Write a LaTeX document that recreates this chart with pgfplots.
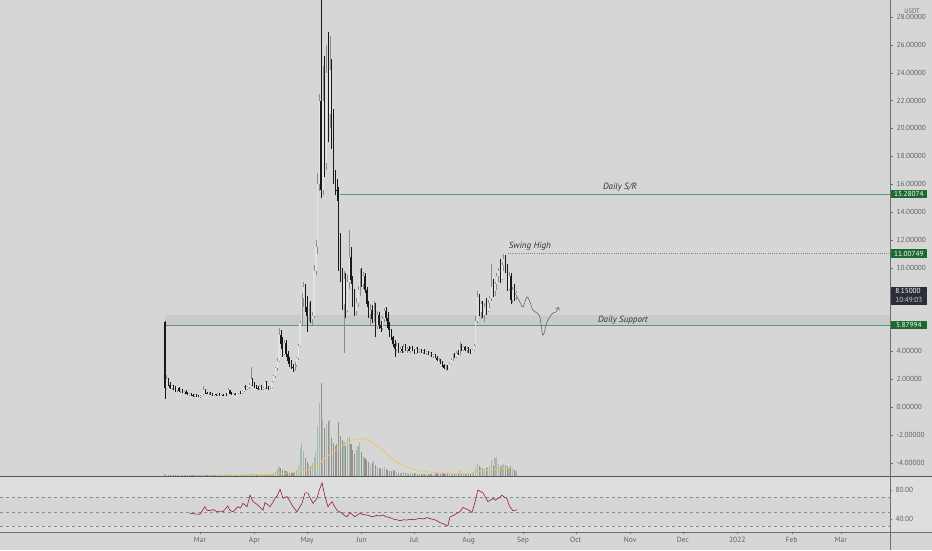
\documentclass[border=0pt]{standalone}
\usepackage{pgfplots}
\pgfplotsset{compat=1.18}
\usepackage{pgfplotstable}
\usepackage{fontspec}
\setmainfont{PT Sans}
\usetikzlibrary{arrows.meta}

\definecolor{bg}{RGB}{214,214,214}
\definecolor{rsibg}{RGB}{222,222,222}
\definecolor{rsiband}{RGB}{214,214,214}
\definecolor{supband}{RGB}{202,202,202}
\definecolor{srgreen}{RGB}{90,152,110}
\definecolor{boxgreen}{RGB}{30,105,45}
\definecolor{boxdark}{RGB}{42,46,57}
\definecolor{upbody}{RGB}{228,228,228}
\definecolor{upwick}{RGB}{140,140,140}
\definecolor{dnbody}{RGB}{25,25,25}
\definecolor{volup}{RGB}{165,185,170}
\definecolor{voldn}{RGB}{150,145,145}
\definecolor{volma}{RGB}{232,200,100}
\definecolor{rsired}{RGB}{150,30,50}
\definecolor{tickgray}{RGB}{95,95,95}
\definecolor{axisgray}{RGB}{110,110,110}

% day 0 = 1 Mar 2021; v = volume bar height
\pgfplotstableread{
d o h l c v
-20 6.10 6.20 0.60 1.40 2
-19 1.40 2.30 1.30 2.00 1
-18 2.00 2.10 1.50 1.60 1
-17 1.60 1.80 1.30 1.40 1
-16 1.40 1.60 1.20 1.50 1
-15 1.50 1.60 1.20 1.30 1
-14 1.30 1.50 1.10 1.20 1
-13 1.20 1.40 1.10 1.35 1
-12 1.35 1.45 1.10 1.15 1
-11 1.15 1.30 1.00 1.20 1
-10 1.20 1.30 1.00 1.05 1
-9 1.05 1.15 0.95 1.10 1
-8 1.10 1.20 0.90 0.95 1
-7 0.95 1.05 0.85 0.90 1
-6 0.90 1.00 0.80 0.95 1
-5 0.95 1.00 0.80 0.85 1
-4 0.85 0.95 0.75 0.80 1
-3 0.80 0.90 0.70 0.85 1
-2 0.85 0.90 0.72 0.78 1
-1 0.78 0.85 0.70 0.75 1
0 0.75 0.85 0.68 0.80 1
1 0.80 0.95 0.75 0.90 1
2 0.90 1.50 0.85 1.20 2
3 1.20 1.30 0.95 1.00 1
4 1.00 1.10 0.90 0.95 1
5 0.95 1.05 0.85 1.00 1
6 1.00 1.05 0.85 0.90 1
7 0.90 1.00 0.82 0.85 1
8 0.85 0.95 0.80 0.90 1
9 0.90 0.95 0.80 0.85 1
10 0.85 1.00 0.80 0.95 1
11 0.95 1.00 0.80 0.85 1
12 0.85 0.95 0.78 0.88 1
13 0.88 0.95 0.80 0.82 1
14 0.82 0.92 0.78 0.90 1
15 0.90 1.00 0.82 0.86 1
16 0.86 1.40 0.84 1.20 2
17 1.20 1.25 0.90 0.95 1
18 0.95 1.05 0.85 0.90 1
19 0.90 1.00 0.85 0.95 1
20 0.95 1.00 0.85 0.88 1
21 0.88 1.00 0.85 0.98 1
22 0.98 1.10 0.90 1.05 1
23 1.05 1.15 0.95 1.00 1
24 1.00 1.20 0.95 1.15 1
25 1.15 1.50 1.10 1.40 2
26 1.40 1.60 1.20 1.30 1
27 1.30 1.50 1.20 1.45 1
28 1.45 1.70 1.30 1.60 2
29 1.60 2.90 1.50 2.00 3
30 2.00 2.10 1.50 1.60 2
31 1.60 1.80 1.40 1.50 1
32 1.50 1.60 1.30 1.40 1
33 1.40 1.50 1.20 1.30 1
34 1.30 1.60 1.25 1.50 1
35 1.50 1.55 1.20 1.30 1
36 1.30 1.45 1.20 1.35 1
37 1.35 1.90 1.30 1.80 2
38 1.80 1.85 1.30 1.40 2
39 1.40 1.50 1.25 1.35 1
40 1.35 1.50 1.30 1.45 1
41 1.45 1.90 1.40 1.80 2
42 1.80 2.30 1.70 2.20 3
43 2.20 2.90 2.10 2.80 4
44 2.80 3.50 2.60 3.30 6
45 3.30 5.70 3.20 5.20 9
46 5.20 5.50 4.20 4.50 8
47 4.50 5.00 3.60 3.80 6
48 3.80 4.80 3.70 4.60 7
49 4.60 4.80 3.60 3.80 5
50 3.80 4.00 3.10 3.30 4
51 3.30 3.60 2.90 3.10 3
52 3.10 3.40 2.70 2.90 3
53 2.90 3.10 2.50 2.80 3
54 2.80 3.20 2.60 3.00 4
55 3.00 3.60 2.90 3.50 6
56 3.50 4.50 3.40 4.40 10
57 4.40 6.20 4.30 6.00 28
58 6.00 8.20 5.80 7.80 33
59 7.80 9.00 7.20 8.60 25
60 8.60 8.80 6.80 7.20 18
61 7.20 8.00 5.40 6.50 14
62 6.50 7.50 6.20 7.30 12
63 7.30 7.60 6.00 6.30 10
64 6.30 6.80 5.90 6.50 13
65 6.50 10.20 6.40 9.80 19
66 9.80 12.00 9.50 11.50 24
67 11.50 16.80 11.00 16.00 50
68 16.00 22.50 15.50 22.00 73
69 22.00 30.50 15.00 15.60 93
70 15.60 24.50 15.20 22.00 56
71 22.00 25.20 16.50 17.50 48
72 17.50 26.00 17.00 24.00 52
73 24.00 26.90 19.00 21.00 55
74 21.00 26.60 20.00 24.20 56
75 24.20 25.00 18.50 19.20 38
76 19.20 21.40 16.00 16.40 33
77 16.40 17.00 15.20 15.60 30
78 15.60 16.40 14.80 15.50 32
79 15.50 15.80 9.80 10.40 54
80 10.40 12.50 9.00 9.60 40
81 9.60 10.00 7.00 7.40 36
82 7.40 9.80 3.90 9.20 34
83 9.20 9.60 6.40 7.00 30
84 7.00 9.50 6.80 9.00 38
85 9.00 12.70 8.50 10.80 40
86 10.80 11.50 8.80 9.10 32
87 9.10 9.40 7.20 7.60 26
88 7.60 8.50 6.50 6.90 22
89 6.90 7.80 6.60 7.50 26
90 7.50 8.70 7.20 8.40 30
91 8.40 9.90 8.00 9.60 34
92 9.60 10.00 8.60 8.80 24
93 8.80 9.70 8.50 9.40 20
94 9.40 9.60 8.20 8.40 18
95 8.40 8.60 7.20 7.40 16
96 7.40 7.60 6.40 6.70 14
97 6.70 7.40 5.90 7.00 12
98 7.00 7.30 6.00 6.30 13
99 6.30 7.60 6.10 7.40 15
100 7.40 7.50 5.00 5.80 11
101 5.80 6.90 5.60 6.60 9
102 6.60 6.80 5.60 5.90 8
103 5.90 6.20 5.40 5.70 7
104 5.70 6.50 5.50 6.30 8
105 6.30 7.10 6.10 6.90 9
106 6.90 7.20 6.20 6.40 7
107 6.40 6.80 5.50 5.70 6
108 5.70 6.10 5.00 5.20 5
109 5.20 5.60 4.80 5.00 5
110 5.00 5.10 4.30 4.50 6
111 4.50 4.80 3.60 4.20 5
112 4.20 4.60 4.00 4.40 4
113 4.40 4.60 3.90 4.00 3
114 4.00 4.30 3.90 4.20 3
115 4.20 4.40 3.90 4.00 3
116 4.00 4.50 3.90 4.30 4
117 4.30 4.50 4.00 4.10 3
118 4.10 4.30 3.90 4.20 3
119 4.20 4.40 4.00 4.05 2
120 4.05 4.30 3.90 4.20 3
121 4.20 4.40 4.00 4.10 2
122 4.10 4.20 3.80 3.90 3
123 3.90 4.30 3.80 4.20 3
124 4.20 4.30 3.90 4.00 2
125 4.00 4.20 3.85 4.10 2
126 4.10 4.20 3.90 3.95 2
127 3.95 4.10 3.80 4.05 2
128 4.05 4.15 3.80 3.85 2
129 3.85 4.00 3.75 3.95 2
130 3.95 4.05 3.70 3.75 2
131 3.75 3.95 3.65 3.90 2
132 3.90 3.95 3.60 3.65 2
133 3.65 3.80 3.50 3.70 2
134 3.70 3.80 3.50 3.55 2
135 3.55 3.65 3.30 3.35 3
136 3.35 3.50 3.20 3.40 2
137 3.40 3.45 3.10 3.15 2
138 3.15 3.30 2.90 3.00 3
139 3.00 3.10 2.70 2.80 3
140 2.80 3.00 2.60 2.90 3
141 2.90 3.00 2.65 2.75 3
142 2.75 3.20 2.70 3.10 3
143 3.10 3.50 3.00 3.40 3
144 3.40 3.80 3.30 3.70 3
145 3.70 3.90 3.50 3.60 2
146 3.60 4.00 3.50 3.90 3
147 3.90 4.10 3.70 3.80 2
148 3.80 4.70 3.70 4.30 6
149 4.30 4.50 4.00 4.10 3
150 4.10 4.40 4.00 4.30 3
151 4.30 4.40 4.00 4.10 2
152 4.10 4.30 3.90 4.20 2
153 4.20 4.30 3.90 4.00 2
154 4.00 4.20 3.80 3.90 2
155 3.90 4.20 3.85 4.10 3
156 4.10 4.50 4.00 4.40 4
157 4.40 6.50 4.30 6.20 8
158 6.20 8.30 6.00 7.90 12
159 7.90 8.10 6.50 6.80 10
160 6.80 7.60 6.30 7.40 9
161 7.40 7.60 6.40 6.60 8
162 6.60 7.50 6.10 7.20 7
163 7.20 7.80 6.60 6.90 8
164 6.90 7.70 6.80 7.50 9
165 7.50 8.00 7.10 7.80 10
166 7.80 10.30 7.60 8.60 16
167 8.60 9.20 7.90 8.30 10
168 8.30 9.00 8.00 8.80 18
169 8.80 9.60 8.40 9.40 19
170 9.40 10.00 9.00 9.80 12
171 9.80 10.60 8.90 9.20 9
172 9.20 10.40 9.10 10.20 11
173 10.20 11.01 9.80 10.60 12
174 10.60 10.90 9.60 10.00 11
175 10.00 10.30 8.30 8.50 10
176 8.50 9.70 8.40 9.40 8
177 9.40 9.60 7.40 7.70 10
178 7.70 8.60 7.50 8.40 7
179 8.40 8.80 7.60 7.90 6
180 7.90 8.30 7.70 8.15 5
}\prices

\pgfplotsset{
  pane/.style={at={(0pt,#1)}, anchor=south west, width=890pt,
    scale only axis, xmin=-113.9, xmax=393,
    /pgf/number format/assume math mode=true},
  candle/.style 2 args={draw=none, mark=none, forget plot,
    error bars/.cd, y dir=plus, y explicit, error mark=none,
    error bar style={draw=#1, line width=#2, solid}},
}

\begin{document}
\begin{tikzpicture}
\useasboundingbox (0,0) rectangle (932pt,550pt);
\fill[bg] (0,0) rectangle (932pt,550pt);
\fill[rsibg] (0,18pt) rectangle (932pt,74pt);

% volume
\begin{axis}[pane=74pt, height=476pt, ymin=0, ymax=476, hide axis]
\addplot[ycomb, mark=none, line width=1.1pt, draw=volup]
  table[x=d, y expr={(\thisrow{c}>=\thisrow{o})*\thisrow{v}}] {\prices};
\addplot[ycomb, mark=none, line width=1.1pt, draw=voldn]
  table[x=d, y expr={(\thisrow{c}<\thisrow{o})*\thisrow{v}}] {\prices};
\addplot[volma, line width=0.8pt, smooth] coordinates {
  (9.7,1) (20,1) (30,1.3) (41.6,1.8) (50,3) (57,4.5) (62,6.5) (66.6,9)
  (70,16) (75.7,24) (81.4,31) (87.1,36) (92.8,37.5) (96.8,35) (100,31)
  (104.2,26) (108,20) (112.2,14) (118,9) (123.6,6) (130,4) (136.7,3)
  (145,2.5) (152,2.5) (157,3.5) (161,5) (166,6) (170.8,7) (175,7.8) (179.4,8)
};
\end{axis}

% price
\begin{axis}[pane=74pt, height=476pt, ymin=-4.953, ymax=29.22,
  axis x line=none, axis y line*=right,
  y axis line style={draw=axisgray},
  ytick={-4,-2,0,2,4,10,12,14,16,18,20,22,24,26,28}, scaled y ticks=false,
  tick align=outside, major tick length=3pt,
  tick style={draw=axisgray},
  yticklabel style={font=\fontsize{7.3}{8}\selectfont, text=tickgray,
    /pgf/number format/.cd, fixed, fixed zerofill, precision=5, 1000 sep={}},
]
\fill[supband] (axis cs:-20,5.88) rectangle (axis cs:393,6.6);
\draw[srgreen, line width=0.9pt] (axis cs:-20,5.87994) -- (axis cs:393,5.87994);
\draw[srgreen, line width=0.9pt] (axis cs:79.5,15.28074) -- (axis cs:393,15.28074);
\draw[gray, line width=0.5pt, dash pattern=on 1pt off 1.2pt] (axis cs:175.4,11.00749) -- (axis cs:393,11.00749);

% wicks
\addplot[candle={upwick}{0.5pt}]
  table[x=d, y=l, y error plus expr={(\thisrow{c}>=\thisrow{o})*(\thisrow{h}-\thisrow{l})}] {\prices};
\addplot[candle={dnbody}{0.5pt}]
  table[x=d, y=l, y error plus expr={(\thisrow{c}<\thisrow{o})*(\thisrow{h}-\thisrow{l})}] {\prices};
% bodies
\addplot[candle={upbody}{1.3pt}]
  table[x=d, y=o, y error plus expr={max(\thisrow{c}-\thisrow{o},0)}] {\prices};
\addplot[candle={dnbody}{1.3pt}]
  table[x=d, y=c, y error plus expr={max(\thisrow{o}-\thisrow{c},0)}] {\prices};

% projected path
\addplot[draw=black!65, line width=0.5pt, smooth, mark=none,
  -{Straight Barb[length=2.5pt,width=4pt]}] coordinates {
  (179.4,8.18) (182.2,7.54) (183.9,7.18) (186.2,7.9) (187.9,7.54) (189.6,6.96)
  (191.9,6.75) (193.6,6.46) (195.3,5.15) (197.6,6.1) (199.3,6.46) (201,6.75)
  (202.7,6.82) (204.4,7.18)
};

\node[font=\itshape\fontsize{9}{10}\selectfont, text=black!80] at (axis cs:239.2,15.79) {Daily S/R};
\node[font=\itshape\fontsize{9}{10}\selectfont, text=black!80] at (axis cs:187.9,11.56) {Swing High};
\node[font=\itshape\fontsize{9}{10}\selectfont, text=black!80] at (axis cs:240.9,6.25) {Daily Support};

\coordinate (psr) at (axis cs:393,15.28074);
\coordinate (psh) at (axis cs:393,11.00749);
\coordinate (psup) at (axis cs:393,5.87994);
\coordinate (plast) at (axis cs:393,8.61);
\end{axis}

% RSI
\begin{axis}[pane=18pt, height=56pt, ymin=22.07, ymax=99.3,
  axis x line*=bottom, axis y line*=right,
  x axis line style={draw=axisgray}, y axis line style={draw=axisgray},
  ytick={40,80}, scaled y ticks=false,
  xtick={0,31,61,92,122,153,184,214,245,275,306,337,365},
  xticklabels={Mar,Apr,May,Jun,Jul,Aug,Sep,Oct,Nov,Dec,2022,Feb,Mar},
  tick align=outside, major tick length=2pt,
  tick style={draw=axisgray},
  xticklabel style={font=\fontsize{7.5}{8}\selectfont, text=tickgray},
  yticklabel style={font=\fontsize{7.3}{8}\selectfont, text=tickgray,
    /pgf/number format/.cd, fixed, fixed zerofill, precision=2},
]
\fill[rsiband] (axis cs:-113.9,30) rectangle (axis cs:393,70);
\draw[black!45, dash pattern=on 3pt off 3pt, line width=0.5pt] (axis cs:-113.9,70) -- (axis cs:393,70);
\draw[black!45, dash pattern=on 3pt off 3pt, line width=0.5pt] (axis cs:-113.9,50) -- (axis cs:393,50);
\draw[black!45, dash pattern=on 3pt off 3pt, line width=0.5pt] (axis cs:-113.9,30) -- (axis cs:393,30);
\addplot[rsired, line width=0.6pt, mark=none] coordinates {
  (-5.7,48) (-3,47) (0,46.4) (2.8,57) (4,52) (5.7,51.5) (7.5,53) (9.7,50)
  (11.5,51) (13.1,50) (15.9,58) (17,52) (18.8,50) (20,53) (21.6,57) (23,55)
  (24.5,61.6) (26.8,57) (28.5,73) (30.2,64) (31.5,62) (33,59) (35.9,52)
  (37,62.5) (38.5,60) (39.9,57) (41.5,63) (42.7,68.5) (44,72) (45.6,81)
  (47.3,68.5) (49.5,71) (51.3,64) (53,57) (55.2,50) (56.5,55) (58.1,61.6)
  (59.8,76) (61.5,76) (62.5,70) (64.4,61.6) (66.6,68.5) (68,80) (69.5,90)
  (71.2,71) (72.9,57) (75.2,64) (76.5,58) (78,52) (79.5,50) (80.9,48)
  (82.2,45) (83.7,43) (85.4,49) (86.8,46) (88.3,43) (89.8,46) (91.1,48)
  (93,46) (95.1,45.5) (96.8,44) (98.5,43) (100.5,45) (102.3,44) (104.2,45.5)
  (106.2,43) (108.2,42) (110,40) (112,39) (113.9,37.7) (116,39) (117.8,38.5)
  (119.6,39.6) (121.6,39) (123.6,40) (125.5,41) (127.4,40) (129.3,42)
  (131,40.5) (132.7,39.6) (134.7,38) (136.7,35) (139,33) (141.2,30.4)
  (142.4,43) (144.4,45) (146.4,48) (148,50) (149.8,56) (151.5,54) (153.3,52)
  (154.9,49) (156.5,62) (158.3,80) (159.7,78) (161.2,76) (162.6,70) (164,64)
  (165.5,66) (166.9,68.5) (168.3,66) (169.7,68.5) (171,70) (172,73)
  (173.4,70) (174.8,68.5) (175.6,62) (176.5,57) (177.4,54) (178.2,51.5)
  (179.4,52) (180.5,53)
};
\end{axis}

% pane separators and price scale border
\draw[axisgray!80!black, line width=0.7pt] (0,74pt) -- (932pt,74pt);
\draw[axisgray, line width=0.7pt] (0,18pt) -- (932pt,18pt);
\draw[axisgray, line width=0.7pt] (890pt,0) -- (890pt,550pt);

% price labels
\tikzset{plabel/.style={anchor=west, xshift=0.6pt, fill=#1, text=white,
  font=\fontsize{7.3}{8}\selectfont, inner xsep=1.5pt, inner ysep=1.6pt,
  minimum width=36pt}}
\node[plabel=boxgreen] at (psr) {15.28074};
\node[plabel=boxgreen] at (psh) {11.00749};
\node[plabel=boxgreen] at (psup) {5.87994};
\node[anchor=north west, xshift=0.6pt, fill=boxdark, text=white,
  font=\fontsize{7.3}{9}\selectfont, inner xsep=1.5pt, inner ysep=1.5pt,
  align=left, minimum width=36pt] at (plast) {8.15000\\{\color{white!80!black}10:49:03}};
\node[font=\fontsize{6.5}{7}\selectfont, text=tickgray, fill=bg, inner sep=1pt]
  at (912pt,539pt) {USDT};
\end{tikzpicture}
\end{document}
